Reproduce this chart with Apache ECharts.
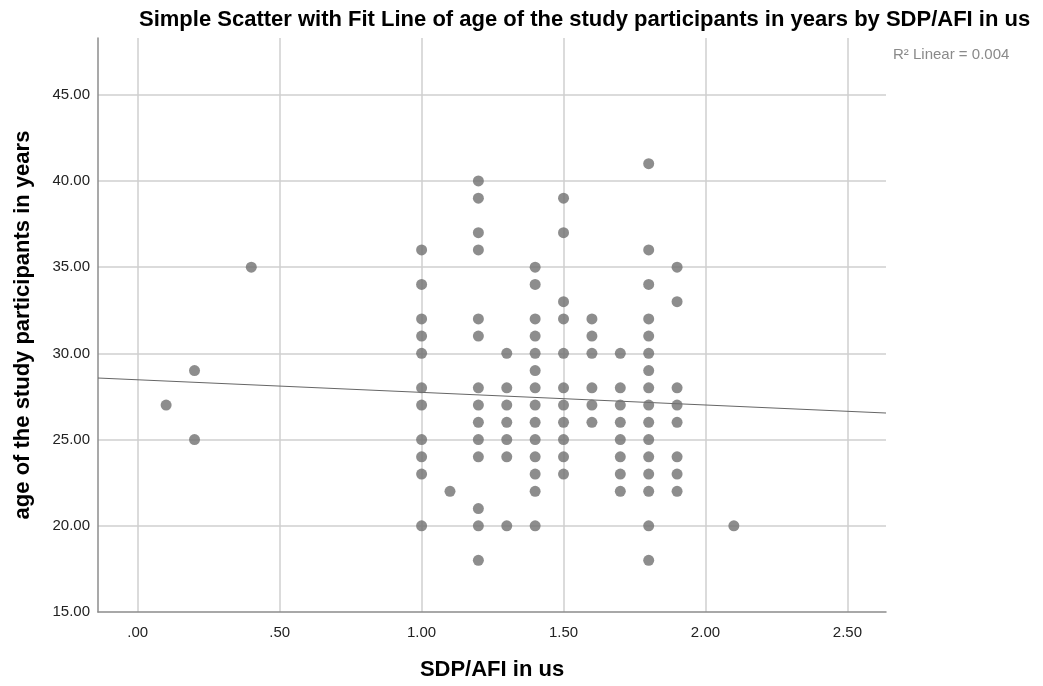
<!DOCTYPE html>
<html>
<head>
<meta charset="utf-8">
<script src="https://cdn.jsdelivr.net/npm/echarts@6/dist/echarts.min.js"></script>
<style>
html,body{margin:0;padding:0;background:#fff;}
#chart{width:1043px;height:686px;}
</style>
</head>
<body>
<div id="chart"></div>
<script>
// SDP/AFI in us (x) and age in years (y)
const sdpAfi = [
  0.1,
  0.2, 0.2,
  0.4,
  1.0,1.0,1.0,1.0,1.0,1.0,1.0,1.0,1.0,1.0,1.0,
  1.1,
  1.2,1.2,1.2,1.2,1.2,1.2,1.2,1.2,1.2,1.2,1.2,1.2,1.2,1.2,
  1.3,1.3,1.3,1.3,1.3,1.3,1.3,
  1.4,1.4,1.4,1.4,1.4,1.4,1.4,1.4,1.4,1.4,1.4,1.4,1.4,1.4,
  1.5,1.5,1.5,1.5,1.5,1.5,1.5,1.5,1.5,1.5,1.5,
  1.6,1.6,1.6,1.6,1.6,1.6,
  1.7,1.7,1.7,1.7,1.7,1.7,1.7,1.7,
  1.8,1.8,1.8,1.8,1.8,1.8,1.8,1.8,1.8,1.8,1.8,1.8,1.8,1.8,1.8,1.8,
  1.9,1.9,1.9,1.9,1.9,1.9,1.9,1.9,
  2.1
];
const ages = [
  27,
  29, 25,
  35,
  36,34,32,31,30,28,27,25,24,23,20,
  22,
  40,39,37,36,32,31,28,27,26,25,24,21,20,18,
  30,28,27,26,25,24,20,
  35,34,32,31,30,29,28,27,26,25,24,23,22,20,
  39,37,33,32,30,28,27,26,25,24,23,
  32,31,30,28,27,26,
  30,28,27,26,25,24,23,22,
  41,36,34,32,31,30,29,28,27,26,25,24,23,22,20,18,
  35,33,28,27,26,24,23,22,
  20
];
// fit line end points
const fitX = [-0.14, 2.636];
const fitY = [28.57, 26.54];
const xRange = [-0.14, 2.636];
const yRange = [15, 48.29];
const tickStep = { x: 0.5, y: 5 };

const titleText = 'Simple Scatter with Fit Line of age of the study participants in years by SDP/AFI in us';
const xName = 'SDP/AFI in us';
const yName = 'age of the study participants in years';
const r2Text = 'R\u00B2 Linear = 0.004';

const FONT = '"Liberation Sans", Arial, sans-serif';
const chart = echarts.init(document.getElementById('chart'), null, {renderer: 'canvas'});

const points = sdpAfi.map((x, i) => [x, ages[i]]);
const fitData = fitX.map((x, i) => [x, fitY[i]]);

function spssFmt(v) {
  let s = Number(v).toFixed(2);
  if (s.startsWith('0.')) s = s.slice(1);
  return s;
}

chart.setOption({
  animation: false,
  backgroundColor: '#ffffff',
  title: {
    text: titleText,
    left: 134, top: 4,
    textStyle: {fontFamily: FONT, fontSize: 22, fontWeight: 'bold', color: '#000'}
  },
  graphic: [{
    type: 'text', left: 893, top: 47,
    style: {text: r2Text, fontFamily: FONT, fontSize: 15, fill: '#8a8a8a'}
  }],
  grid: {left: 98, right: 157, top: 38, bottom: 72, containLabel: false},
  xAxis: {
    type: 'value',
    min: xRange[0], max: xRange[1],
    minInterval: tickStep.x, maxInterval: tickStep.x,
    name: xName, nameLocation: 'middle', nameGap: 47,
    nameTextStyle: {fontFamily: FONT, fontSize: 22, fontWeight: 'bold', color: '#000'},
    axisLine: {show: true, onZero: false, lineStyle: {color: '#8c8c8c', width: 1.5}},
    axisTick: {show: false},
    axisLabel: {
      fontFamily: FONT, fontSize: 15, color: '#222', margin: 13,
      showMinLabel: false, showMaxLabel: false,
      formatter: v => (Math.abs(v / tickStep.x - Math.round(v / tickStep.x)) < 1e-6 ? spssFmt(v) : '')
    },
    splitLine: {show: true, showMinLine: false, showMaxLine: false, lineStyle: {color: '#cfcfcf', width: 1.5}}
  },
  yAxis: {
    type: 'value',
    min: yRange[0], max: yRange[1],
    minInterval: tickStep.y, maxInterval: tickStep.y,
    name: yName, nameLocation: 'middle', nameGap: 64,
    nameTextStyle: {fontFamily: FONT, fontSize: 22, fontWeight: 'bold', color: '#000'},
    axisLine: {show: true, onZero: false, lineStyle: {color: '#8c8c8c', width: 1.5}},
    axisTick: {show: false},
    axisLabel: {
      fontFamily: FONT, fontSize: 15, color: '#222', margin: 8, padding: [3, 0, 0, 0],
      showMinLabel: true, showMaxLabel: false,
      formatter: v => (Math.abs(v / tickStep.y - Math.round(v / tickStep.y)) < 1e-6 ? spssFmt(v) : '')
    },
    splitLine: {show: true, showMinLine: false, showMaxLine: false, lineStyle: {color: '#cfcfcf', width: 1.5}}
  },
  series: [
    {
      type: 'line', data: fitData, symbol: 'none', silent: true,
      lineStyle: {color: '#666666', width: 1}, z: 2
    },
    {
      type: 'scatter', data: points, symbol: 'circle', symbolSize: 11,
      itemStyle: {color: '#707070'}, z: 3
    }
  ]
});
</script>
</body>
</html>
